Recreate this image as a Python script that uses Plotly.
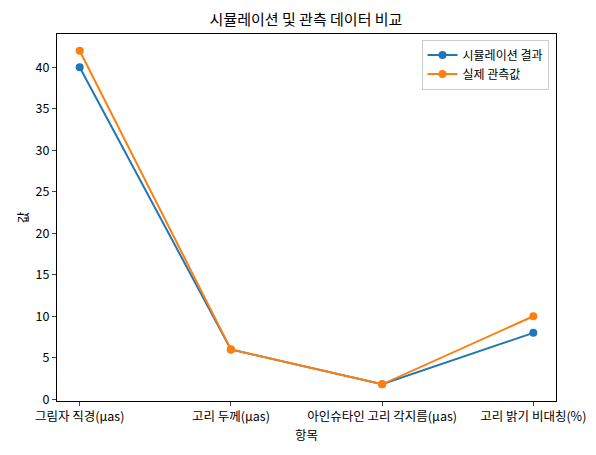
import plotly.graph_objects as go

categories = ["그림자 직경(μas)", "고리 두께(μas)", "아인슈타인 고리 각지름(μas)", "고리 밝기 비대칭(%)"]
sim = [40, 6, 1.8, 8]
obs = [42, 6, 1.8, 10]
x = list(range(len(categories)))

fig = go.Figure()
fig.add_trace(go.Scatter(x=x, y=sim, name="시뮬레이션 결과", mode="lines+markers",
                         line=dict(color="#1f77b4", width=2), marker=dict(size=8)))
fig.add_trace(go.Scatter(x=x, y=obs, name="실제 관측값", mode="lines+markers",
                         line=dict(color="#ff7f0e", width=2), marker=dict(size=8)))
axis = dict(showline=True, linecolor="black", mirror=True, ticks="outside", ticklen=4,
            showgrid=False, zeroline=False, tickfont=dict(size=12.5, color="black"))
fig.update_layout(
    width=596, height=455, plot_bgcolor="white", paper_bgcolor="white",
    font=dict(family="Noto Sans CJK KR", color="black", size=12.5),
    margin=dict(l=49, r=48, t=26, b=62),
    title=dict(text="시뮬레이션 및 관측 데이터 비교", x=0.5, xanchor="center", y=0.985, font=dict(size=15)),
    xaxis=dict(axis, range=[-0.15, 3.15], tickvals=x, ticktext=categories,
               title=dict(text="항목", standoff=2, font=dict(size=12.5))),
    yaxis=dict(axis, range=[-0.21, 44.01], dtick=5,
               title=dict(text="값", standoff=4, font=dict(size=12.5))),
    legend=dict(x=0.985, y=0.985, xanchor="right", yanchor="top", bordercolor="#cccccc",
                borderwidth=1, bgcolor="rgba(255,255,255,0.8)", font=dict(size=12),
                tracegroupgap=0),
    showlegend=True,
)
fig.write_html("out.html")
